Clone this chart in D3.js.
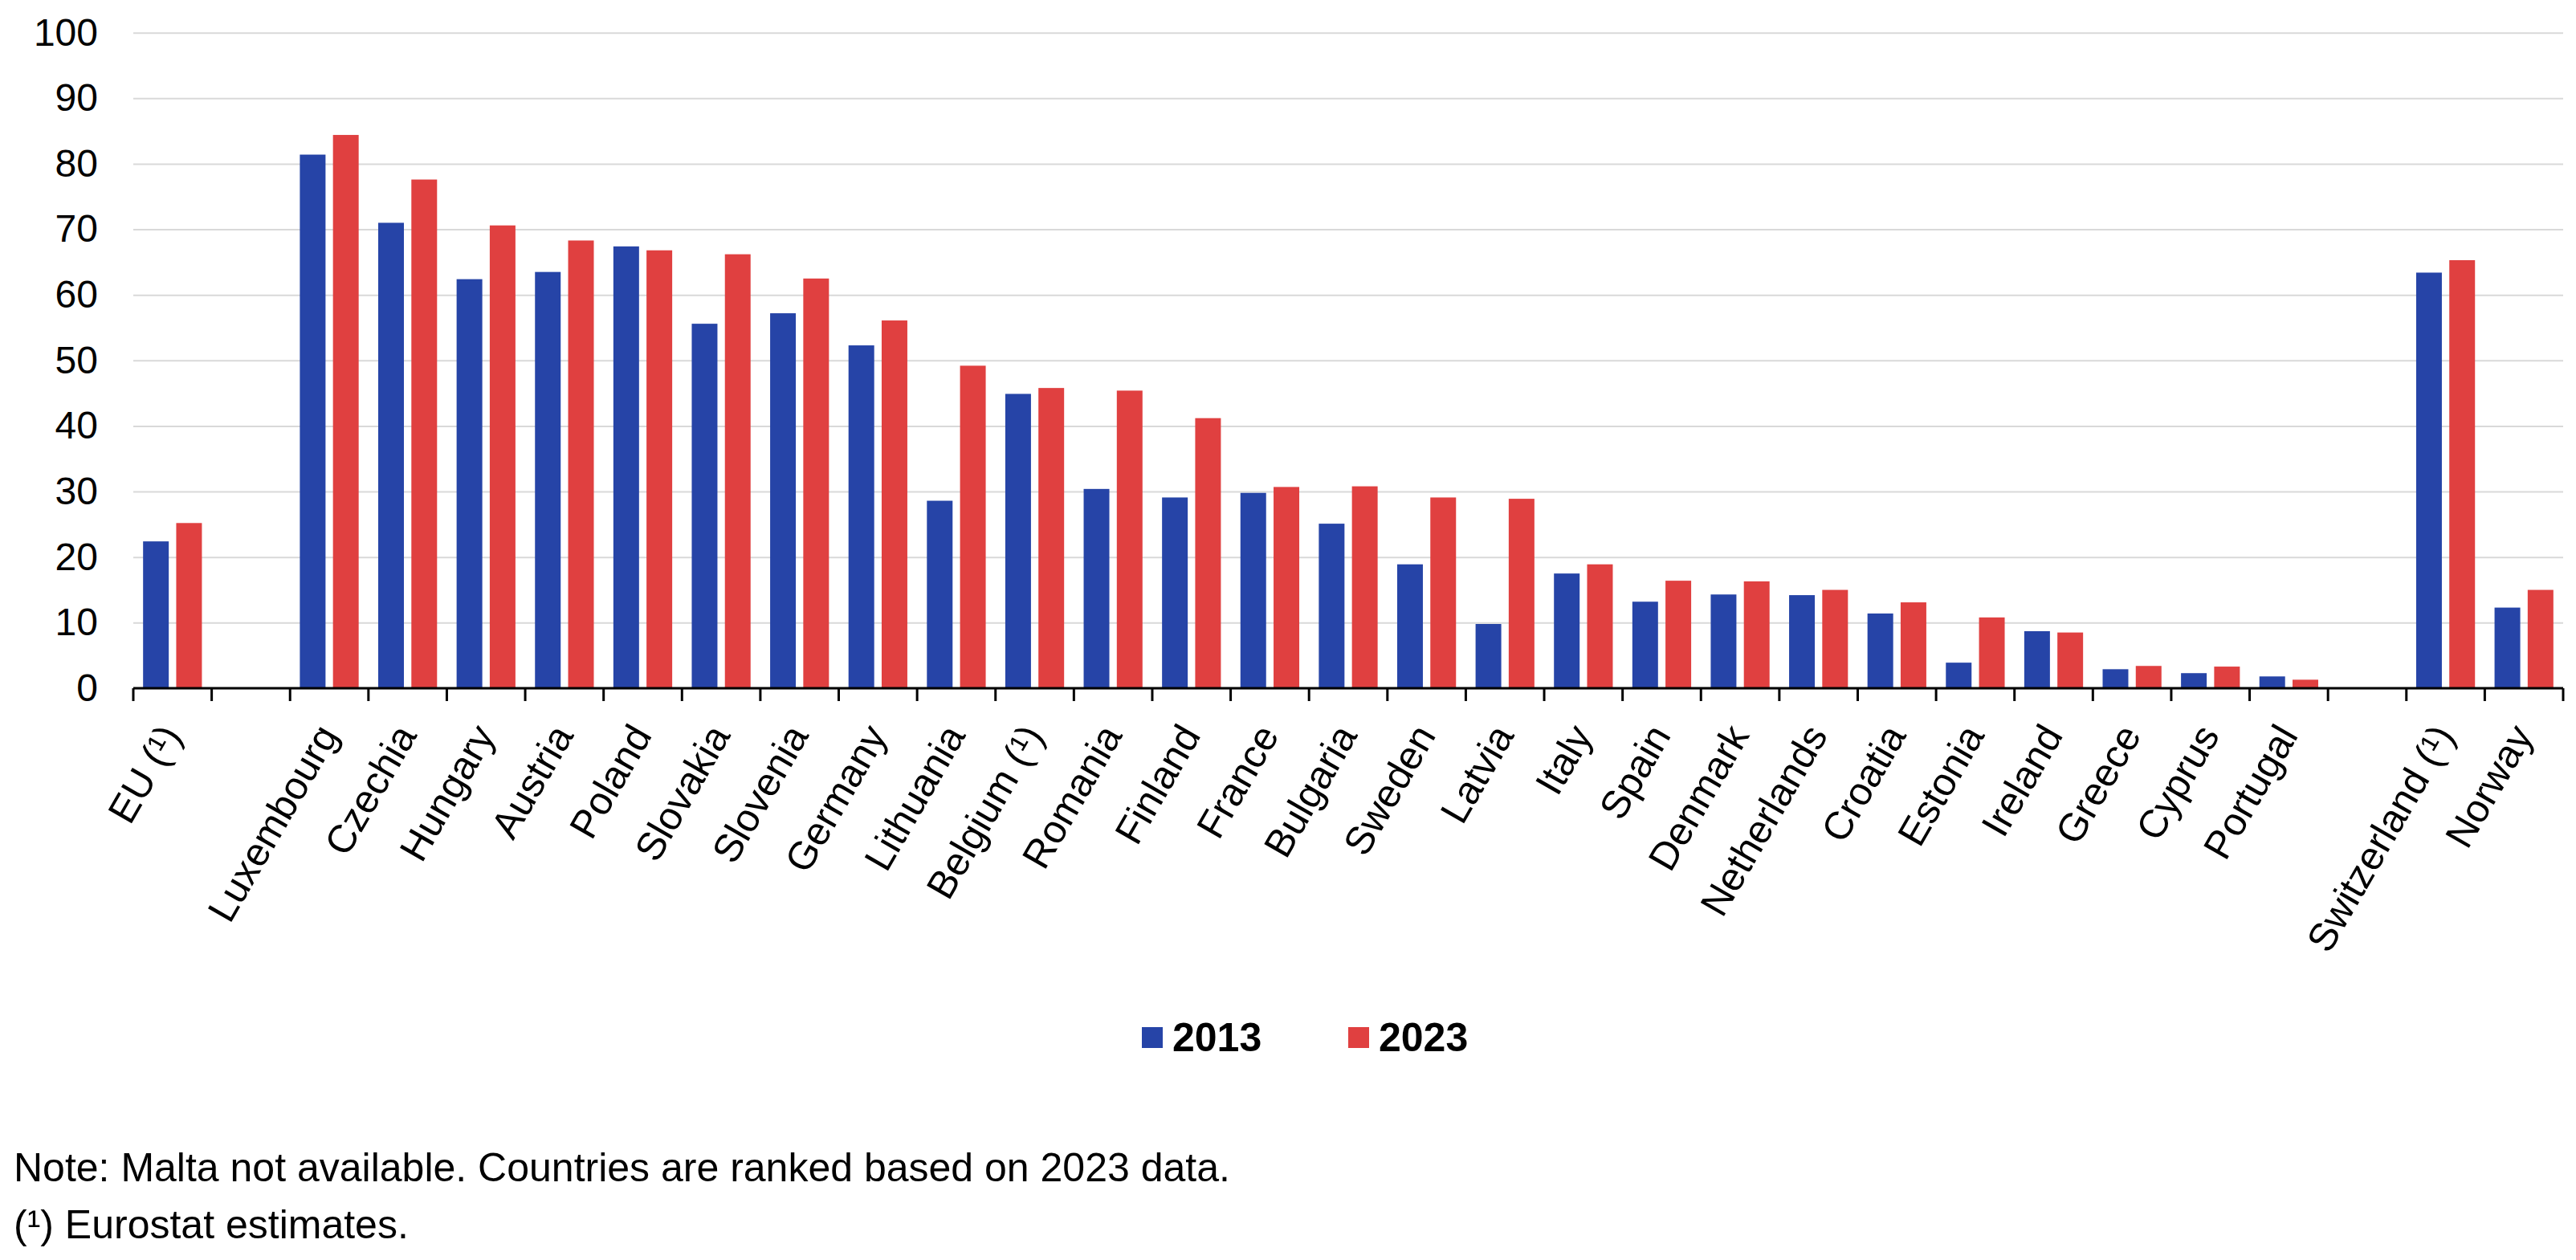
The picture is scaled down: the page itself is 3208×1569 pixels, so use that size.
<!DOCTYPE html>
<html>
<head>
<meta charset="utf-8">
<script src="https://cdn.jsdelivr.net/npm/d3@7/dist/d3.min.js"></script>
<style>
  body { margin: 0; background: #fff; }
  text { font-family: "Liberation Sans", Arial, sans-serif; }
</style>
</head>
<body>
<div id="chart"></div>
<script>
// categories, "" = empty slot between groups
var categories = ["EU (¹)", "", "Luxembourg", "Czechia", "Hungary", "Austria", "Poland", "Slovakia",
  "Slovenia", "Germany", "Lithuania", "Belgium (¹)", "Romania", "Finland", "France", "Bulgaria",
  "Sweden", "Latvia", "Italy", "Spain", "Denmark", "Netherlands", "Croatia", "Estonia", "Ireland",
  "Greece", "Cyprus", "Portugal", "", "Switzerland (¹)", "Norway"];

var values2013 = [22.4, null, 81.4, 71.0, 62.4, 63.5, 67.4, 55.6, 57.2, 52.3, 28.6, 44.9, 30.4, 29.1,
  29.8, 25.1, 18.9, 9.8, 17.5, 13.2, 14.3, 14.2, 11.4, 3.9, 8.7, 2.9, 2.3, 1.8, null, 63.4, 12.3];
var values2023 = [25.2, null, 84.4, 77.6, 70.6, 68.3, 66.8, 66.2, 62.5, 56.1, 49.2, 45.8, 45.4, 41.2,
  30.7, 30.8, 29.1, 28.9, 18.9, 16.4, 16.3, 15.0, 13.1, 10.8, 8.5, 3.4, 3.3, 1.3, null, 65.3, 15.0];

var series = ["2013", "2023"];
var colors = ["#2644A7", "#E04040"];
var yTicks = [0, 10, 20, 30, 40, 50, 60, 70, 80, 90, 100];

var notes = ["Note: Malta not available. Countries are ranked based on 2023 data.",
  "(¹) Eurostat estimates."];

var width = 3208, height = 1569;
var margin = {top: 40.7, left: 166};
var plotW = 3192 - margin.left,
    plotH = 857 - margin.top;

var svg = d3.select("#chart")
  .append("svg")
    .attr("width", width)
    .attr("height", height)
  .append("g")
    .attr("transform", "translate(" + margin.left + "," + margin.top + ")");

var x = d3.scaleBand()
  .domain(d3.range(categories.length))
  .range([0, plotW])
  .paddingInner(0)
  .paddingOuter(0);

var xSub = d3.scaleBand()
  .domain(series)
  .range([0, x.bandwidth()])
  .paddingInner(0.225)
  .paddingOuter(0.295);

var y = d3.scaleLinear()
  .domain([0, 100])
  .range([plotH, 0]);

// Y axis with gridlines
var yAxis = svg.append("g")
  .call(d3.axisLeft(y).tickValues(yTicks).tickSize(-plotW).tickPadding(44));
yAxis.select(".domain").remove();
yAxis.selectAll(".tick line")
  .attr("stroke", "#d9d9d9")
  .attr("stroke-width", 2);
yAxis.selectAll(".tick text")
  .attr("fill", "#000")
  .style("font-size", "48px")
  .style("font-family", "'Liberation Sans', Arial, sans-serif");

// bars
var rows = categories.map(function(c, i) {
  return {i: i, vals: [values2013[i], values2023[i]]};
});

var groups = svg.append("g")
  .selectAll("g")
  .data(rows)
  .enter()
  .append("g")
    .attr("transform", function(d) { return "translate(" + x(d.i) + ",0)"; });

groups.selectAll("rect")
  .data(function(d) {
    return series.map(function(s, k) { return {key: s, k: k, v: d.vals[k]}; })
      .filter(function(e) { return e.v != null; });
  })
  .enter()
  .append("rect")
    .attr("x", function(d) { return xSub(d.key); })
    .attr("y", function(d) { return y(d.v); })
    .attr("width", xSub.bandwidth())
    .attr("height", function(d) { return plotH - y(d.v); })
    .style("fill", function(d) { return colors[d.k]; });

// x axis line and boundary ticks
svg.append("line")
  .attr("x1", 0).attr("x2", plotW)
  .attr("y1", plotH).attr("y2", plotH)
  .attr("stroke", "#000")
  .attr("stroke-width", 3);

var bounds = d3.range(categories.length + 1);
svg.append("g")
  .selectAll("line")
  .data(bounds)
  .enter()
  .append("line")
    .attr("x1", function(d) { return d < categories.length ? x(d) : plotW; })
    .attr("x2", function(d) { return d < categories.length ? x(d) : plotW; })
    .attr("y1", plotH)
    .attr("y2", plotH + 16)
    .attr("stroke", "#000")
    .attr("stroke-width", 3);

// rotated category labels
svg.append("g")
  .selectAll("text")
  .data(rows.filter(function(d) { return categories[d.i] !== ""; }))
  .enter()
  .append("text")
    .attr("transform", function(d) {
      return "translate(" + (x(d.i) + x.bandwidth() / 2 + 12.5) + "," + (plotH + 58.5) + ") rotate(-60)";
    })
    .style("text-anchor", "end")
    .style("font-size", "49px")
    .text(function(d) { return categories[d.i]; });

// legend
var root = d3.select("#chart svg");
var legendX = [1422, 1679];
var legend = root.append("g")
  .selectAll("g")
  .data(series)
  .enter()
  .append("g")
    .attr("transform", function(d, k) { return "translate(" + legendX[k] + ",1279)"; });
legend.append("rect")
  .attr("width", 26).attr("height", 26)
  .style("fill", function(d, k) { return colors[k]; });
legend.append("text")
  .attr("x", 38)
  .attr("y", 30)
  .style("font-size", "50px")
  .style("font-weight", "bold")
  .text(function(d) { return d; });

// notes
root.append("g")
  .selectAll("text")
  .data(notes)
  .enter()
  .append("text")
    .attr("x", 17)
    .attr("y", function(d, k) { return 1470.7 + k * 71.3; })
    .style("font-size", "50px")
    .text(function(d) { return d; });
</script>
</body>
</html>
